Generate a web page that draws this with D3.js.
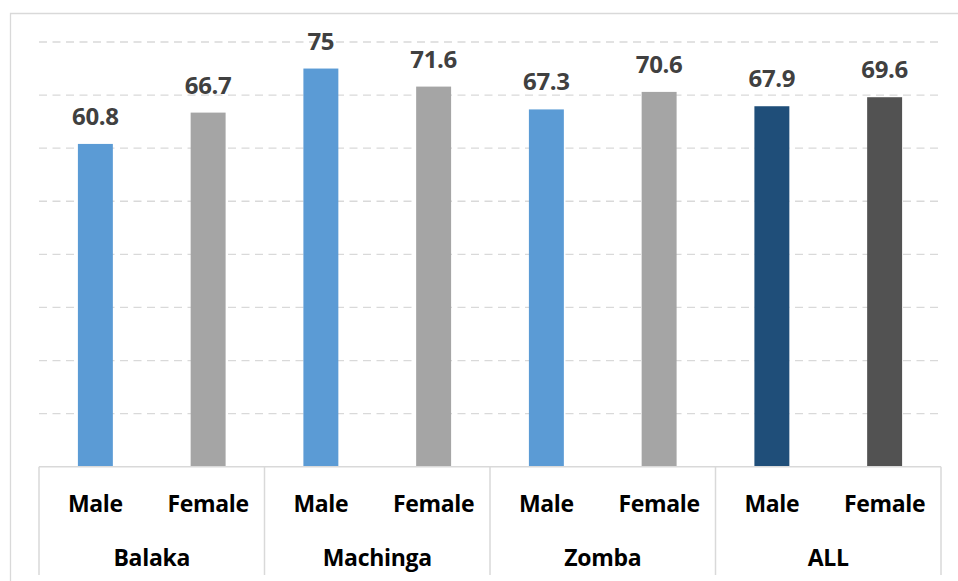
<!DOCTYPE html>
<html>
<head>
<meta charset="utf-8">
<script src="https://cdn.jsdelivr.net/npm/d3@7"></script>
<style>
  html, body { margin: 0; padding: 0; background: #fff; }
  svg { display: block; }
</style>
</head>
<body>
<svg id="chart" width="958" height="581"></svg>
<script>
// Districts and the sex breakdown inside each one
const districts = ["Balaka", "Machinga", "Zomba", "ALL"];
const sexes = ["Male", "Female"];
const maleValues = [60.8, 75, 67.3, 67.9];
const femaleValues = [66.7, 71.6, 70.6, 69.6];
const gridTicks = [10, 20, 30, 40, 50, 60, 70, 80];

// Flattened rows, one per bar
const rows = [];
districts.forEach((d, i) => {
  rows.push({ district: d, sex: "Male", value: maleValues[i] });
  rows.push({ district: d, sex: "Female", value: femaleValues[i] });
});

const colorFor = r => {
  if (r.district === "ALL") return r.sex === "Male" ? "#1F4E79" : "#525252";
  return r.sex === "Male" ? "#5B9BD5" : "#A5A5A5";
};

const FONT = "'Open Sans', Lato, sans-serif";
const W = 958, H = 581;
const plot = { left: 39, right: 941, top: 42, bottom: 466.7 };
const svg = d3.select("#chart");

// Chart frame (left and top edges visible)
svg.append("path")
  .attr("d", `M10.5,${H} L10.5,13.5 L${W},13.5`)
  .attr("fill", "none").attr("stroke", "#d9d9d9").attr("stroke-width", 1.3);

const y = d3.scaleLinear().domain([0, 80]).range([plot.bottom, plot.top]);
const xOuter = d3.scaleBand().domain(districts).range([plot.left, plot.right]).padding(0);
const xInner = d3.scaleBand().domain(sexes).range([0, xOuter.bandwidth()]).paddingInner(0.69).paddingOuter(0.345);

// Dashed horizontal gridlines
svg.append("g").selectAll("line").data(gridTicks).join("line")
  .attr("x1", plot.left).attr("x2", plot.right)
  .attr("y1", d => y(d)).attr("y2", d => y(d))
  .attr("stroke", "#d9d9d9").attr("stroke-width", 1.3)
  .attr("stroke-dasharray", "8,5.5");

// Bars
const barX = r => xOuter(r.district) + xInner(r.sex);
svg.append("g").selectAll("rect").data(rows).join("rect")
  .attr("x", barX)
  .attr("width", xInner.bandwidth())
  .attr("y", r => y(r.value))
  .attr("height", r => y(0) - y(r.value))
  .attr("fill", colorFor);

// Value labels above bars
svg.append("g").selectAll("text").data(rows).join("text")
  .attr("x", r => barX(r) + xInner.bandwidth() / 2)
  .attr("y", r => y(r.value) - 19)
  .attr("text-anchor", "middle")
  .attr("font-family", FONT)
  .attr("font-weight", "bold")
  .attr("font-size", 24)
  .attr("letter-spacing", -0.3)
  .attr("fill", "#404040")
  .text(r => r.value);

// Category axis: baseline and group dividers
const axis = svg.append("g");
axis.append("line")
  .attr("x1", plot.left).attr("x2", plot.right)
  .attr("y1", y(0)).attr("y2", y(0))
  .attr("stroke", "#d9d9d9").attr("stroke-width", 1.5);
const dividers = districts.map(d => xOuter(d)).concat([plot.right]);
axis.selectAll("line.div").data(dividers).join("line")
  .attr("class", "div")
  .attr("x1", d => d).attr("x2", d => d)
  .attr("y1", y(0)).attr("y2", 575)
  .attr("stroke", "#d9d9d9").attr("stroke-width", 1.5);

// Sex labels (inner level)
axis.selectAll("text.sex").data(rows).join("text")
  .attr("class", "sex")
  .attr("x", r => barX(r) + xInner.bandwidth() / 2)
  .attr("y", 511.7)
  .attr("text-anchor", "middle")
  .attr("font-family", FONT)
  .attr("font-weight", "bold")
  .attr("font-size", 23)
  .attr("letter-spacing", -0.3)
  .attr("fill", "#000")
  .text(r => r.sex);

// District labels (outer level)
axis.selectAll("text.district").data(districts).join("text")
  .attr("class", "district")
  .attr("x", d => xOuter(d) + xOuter.bandwidth() / 2)
  .attr("y", 566)
  .attr("text-anchor", "middle")
  .attr("font-family", FONT)
  .attr("font-weight", "bold")
  .attr("font-size", 23)
  .attr("letter-spacing", -0.3)
  .attr("fill", "#000")
  .text(d => d);
</script>
</body>
</html>
